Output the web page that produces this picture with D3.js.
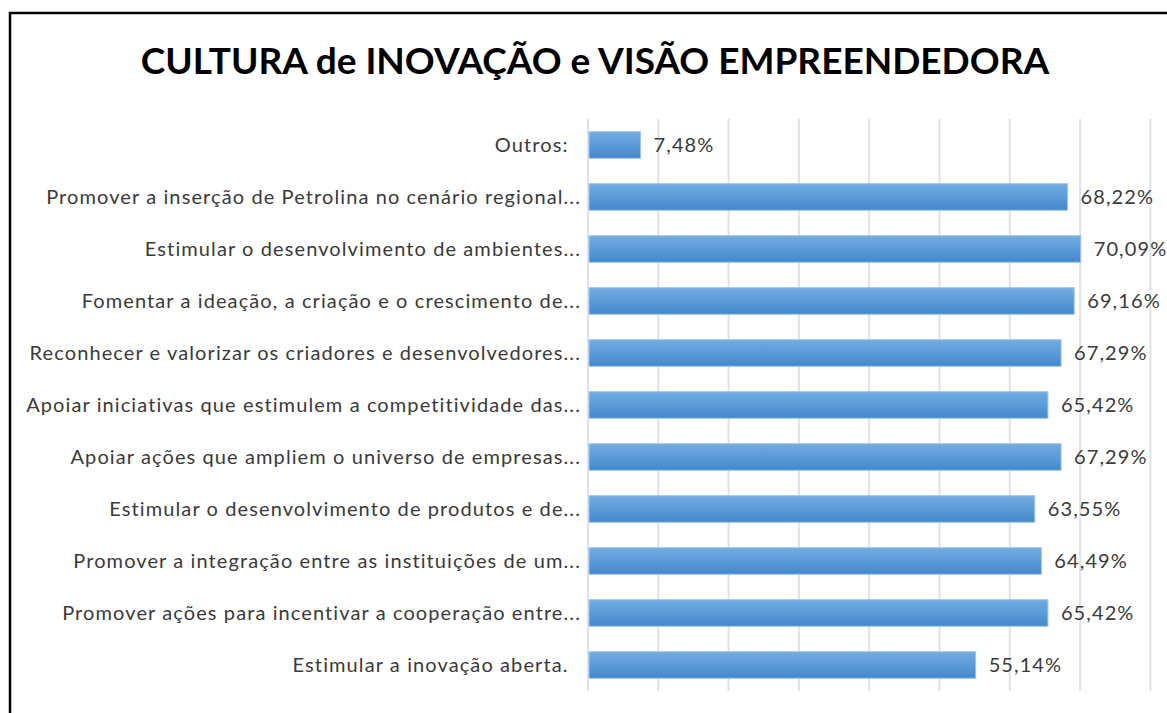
<!DOCTYPE html>
<html><head><meta charset="utf-8">
<script src="https://cdn.jsdelivr.net/npm/d3@7"></script>
<style>
html,body{margin:0;padding:0;background:#fff;}
svg{display:block;}
</style></head>
<body>
<svg id="chart" width="1167" height="713"></svg>
<script>
const title = "CULTURA de INOVAÇÃO e VISÃO EMPREENDEDORA";
const categories = [
  "Outros:  ",
  "Promover a inserção de Petrolina no cenário regional...",
  "Estimular o desenvolvimento de ambientes...",
  "Fomentar a ideação, a criação e o crescimento de...",
  "Reconhecer e valorizar os criadores e desenvolvedores...",
  "Apoiar iniciativas que estimulem a competitividade das...",
  "Apoiar ações que ampliem o universo de empresas...",
  "Estimular o desenvolvimento de produtos e de...",
  "Promover a integração entre as instituições de um...",
  "Promover ações para incentivar a cooperação entre...",
  "Estimular a inovação aberta.  "
];
const values = [7.48, 68.22, 70.09, 69.16, 67.29, 65.42, 67.29, 63.55, 64.49, 65.42, 55.14];
const xTicks = [0, 10, 20, 30, 40, 50, 60, 70, 80];

const svg = d3.select("#chart");
const font = "Lato, 'Open Sans', sans-serif";

// frame
svg.append("rect").attr("x", 10).attr("y", 13).attr("width", 1200).attr("height", 760)
  .attr("fill", "none").attr("stroke", "#000").attr("stroke-width", 2.5);

const defs = svg.append("defs");
const grad = defs.append("linearGradient").attr("id", "barGrad")
  .attr("x1", 0).attr("y1", 0).attr("x2", 0).attr("y2", 1);
grad.append("stop").attr("offset", "0%").attr("stop-color", "#75abe0");
grad.append("stop").attr("offset", "50%").attr("stop-color", "#5b9bd8");
grad.append("stop").attr("offset", "100%").attr("stop-color", "#4487cc");

svg.append("text").attr("x", 595).attr("y", 74)
  .attr("text-anchor", "middle")
  .style("font-family", font).style("font-weight", "bold").style("font-size", "37px")
  .attr("fill", "#000").text(title);

const x = d3.scaleLinear().domain([0, 80]).range([588, 1150.4]);
const y = d3.scaleBand().domain(categories).range([119, 691]).paddingInner(0.49).paddingOuter(0.245);

// gridlines
svg.append("g").selectAll("line").data(xTicks).join("line")
  .attr("x1", d => x(d)).attr("x2", d => x(d))
  .attr("y1", 119).attr("y2", 691)
  .attr("stroke", "#dde2ec").attr("stroke-width", 2);

// bars
svg.append("g").selectAll("rect").data(values).join("rect")
  .attr("x", x(0) + 1)
  .attr("y", (d, i) => y(categories[i]))
  .attr("width", d => x(d) - x(0) - 1)
  .attr("height", y.bandwidth())
  .attr("fill", "url(#barGrad)")
  .attr("stroke", "#9cc3ea").attr("stroke-width", 1);

// category labels
svg.append("g").selectAll("text").data(categories).join("text")
  .attr("x", 581)
  .attr("y", d => y(d) + y.bandwidth() / 2)
  .attr("dy", "0.36em")
  .attr("text-anchor", "end")
  .attr("xml:space", "preserve")
  .style("white-space", "pre")
  .style("letter-spacing", "1.1px")
  .style("font-family", font).style("font-size", "20px")
  .attr("fill", "#3a3a3a")
  .text(d => d);

// value labels
svg.append("g").selectAll("text").data(values).join("text")
  .attr("x", d => x(d) + 13)
  .attr("y", (d, i) => y(categories[i]) + y.bandwidth() / 2)
  .attr("dy", "0.36em")
  .style("letter-spacing", "1.1px")
  .style("font-family", font).style("font-size", "20px")
  .attr("fill", "#3a3a3a")
  .text(d => d.toFixed(2).replace(".", ",") + "%");
</script>
</body></html>
